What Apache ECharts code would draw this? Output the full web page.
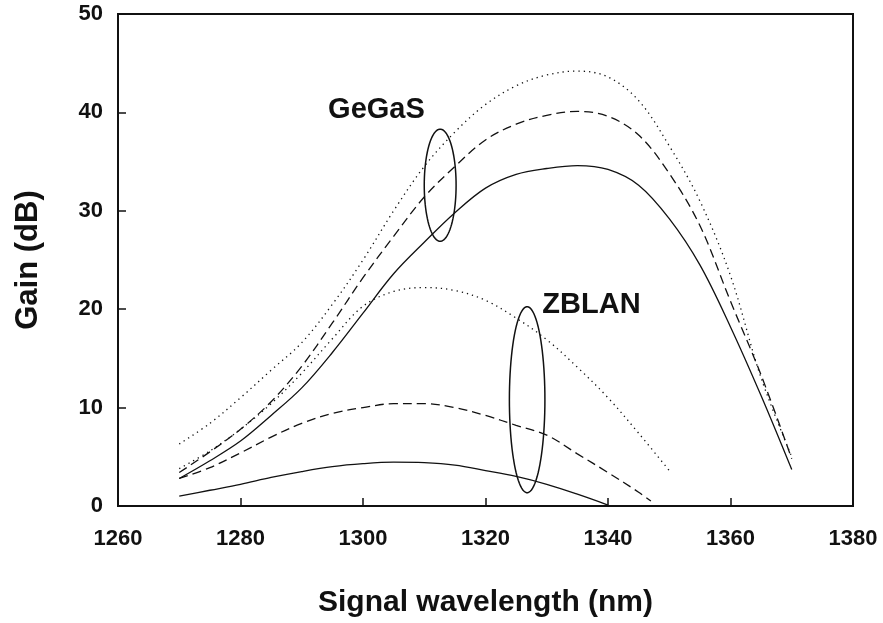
<!DOCTYPE html>
<html>
<head>
<meta charset="utf-8">
<script src="https://cdn.jsdelivr.net/npm/echarts@6/dist/echarts.min.js"></script>
<style>html,body{margin:0;padding:0;background:#fff}#chart{width:883px;height:623px}</style>
</head>
<body>
<div id="chart"></div>
<script>
// Wavelength grid (nm)
var wl = [1270,1275,1280,1285,1290,1295,1300,1305,1310,1315,1320,1325,1330,1335,1340,1345,1350,1355,1360,1365,1370];
// GeGaS gains (dB)
var gegasSolid  = [2.8,4.6,6.6,9.2,12.0,15.6,19.6,23.6,26.8,29.8,32.3,33.7,34.3,34.6,34.2,32.6,29.2,24.5,18.2,11.2,3.7];
var gegasDashed = [3.4,5.5,7.8,10.6,14.2,18.6,23.2,27.4,31.4,34.5,37.2,38.8,39.7,40.1,39.6,37.7,33.8,28.5,20.8,13.3,4.8];
var gegasDotted = [6.3,8.4,11.0,13.8,16.6,20.5,25.0,30.0,34.5,38.0,40.8,42.7,43.8,44.2,43.6,41.2,36.6,31.0,23.4,13.0,5.0];
// ZBLAN gains (dB)
var zblanSolidX  = [1270,1275,1280,1285,1290,1295,1300,1305,1310,1315,1320,1325,1330,1335,1340];
var zblanSolid   = [1.0,1.6,2.2,2.9,3.5,4.0,4.3,4.45,4.4,4.15,3.6,3.0,2.2,1.2,0.1];
var zblanDashedX = [1270,1275,1280,1285,1290,1295,1300,1305,1310,1315,1320,1325,1330,1335,1340,1345,1347];
var zblanDashed  = [2.8,3.9,5.4,7.0,8.4,9.4,10.0,10.4,10.4,10.0,9.2,8.2,7.2,5.3,3.4,1.4,0.5];
var zblanDottedX = [1270,1275,1280,1285,1290,1295,1300,1305,1310,1315,1320,1325,1330,1335,1340,1345,1350];
var zblanDotted  = [3.8,5.6,7.8,10.4,13.5,17.0,20.3,21.8,22.2,21.9,20.9,19.1,16.9,14.1,11.0,7.4,3.6];
// Group annotations: [centre wavelength, centre gain, half-width nm, half-height dB]
var gegasEllipse = [1312.6, 32.6, 2.6, 5.7];
var zblanEllipse = [1326.8, 10.8, 2.9, 9.45];
// Group labels: [wavelength, gain, text]
var groupLabels = [[1302.2, 40.2, 'GeGaS'], [1337.3, 20.4, 'ZBLAN']];

function pairs(xs, ys){ return xs.map(function(x,i){ return [x, ys[i]]; }); }

var ink = '#111';
function lineSeries(xs, ys, type){
  return {
    type: 'line', data: pairs(xs, ys), smooth: 0.35, showSymbol: false, symbol: 'none',
    lineStyle: { color: ink, width: 1.3, type: type }, z: 3, silent: true
  };
}
var DOT = [1.3, 4];
var DASH = [9, 5];

function ellipseSeries(e){
  return {
    type: 'custom', data: [e], z: 4, silent: true,
    renderItem: function(params, api){
      var c = api.coord([api.value(0), api.value(1)]);
      var s = api.size([api.value(2), api.value(3)]);
      var pts = [];
      for (var i = 0; i <= 90; i++) {
        var a = i / 90 * Math.PI * 2;
        pts.push([c[0] + s[0] * Math.cos(a), c[1] + s[1] * Math.sin(a)]);
      }
      return { type: 'polyline', shape: { points: pts }, style: { fill: null, stroke: ink, lineWidth: 1.5 } };
    }
  };
}

var chart = echarts.init(document.getElementById('chart'));
chart.setOption({
  animation: false,
  backgroundColor: '#fff',
  grid: { left: 118, top: 14, right: 30, bottom: 115, show: true, borderColor: ink, borderWidth: 2, backgroundColor: 'transparent' },
  xAxis: {
    type: 'value', min: 1260, max: 1380, interval: 20,
    name: 'Signal wavelength (nm)', nameLocation: 'middle', nameGap: 82,
    nameTextStyle: { fontFamily: 'Liberation Sans', fontWeight: 'bold', fontSize: 30, color: ink },
    axisLine: { show: true, lineStyle: { color: ink, width: 2 } },
    axisTick: { show: true, inside: true, length: 8, lineStyle: { color: ink, width: 1.5 } },
    axisLabel: { margin: 22, fontFamily: 'Liberation Sans', fontWeight: 'bold', fontSize: 22, color: ink,
                 formatter: function(v){ return String(v); } },
    splitLine: { show: false }
  },
  yAxis: {
    type: 'value', min: 0, max: 50, interval: 10,
    name: 'Gain (dB)', nameLocation: 'middle', nameGap: 74, nameRotate: 90,
    nameTextStyle: { fontFamily: 'Liberation Sans', fontWeight: 'bold', fontSize: 31, color: ink },
    axisLine: { show: true, lineStyle: { color: ink, width: 2 } },
    axisTick: { show: true, inside: true, length: 8, lineStyle: { color: ink, width: 1.5 } },
    axisLabel: { margin: 15, fontFamily: 'Liberation Sans', fontWeight: 'bold', fontSize: 22, color: ink },
    splitLine: { show: false }
  },
  series: [
    lineSeries(wl, gegasSolid, 'solid'),
    lineSeries(wl, gegasDashed, DASH),
    lineSeries(wl, gegasDotted, DOT),
    lineSeries(zblanSolidX, zblanSolid, 'solid'),
    lineSeries(zblanDashedX, zblanDashed, DASH),
    lineSeries(zblanDottedX, zblanDotted, DOT),
    ellipseSeries(gegasEllipse),
    ellipseSeries(zblanEllipse),
    {
      type: 'custom', data: groupLabels, z: 5, silent: true,
      renderItem: function(params, api){
        var p = api.coord([api.value(0), api.value(1)]);
        return { type: 'text', x: p[0], y: p[1], style: {
          text: groupLabels[params.dataIndex][2], textAlign: 'center', textVerticalAlign: 'middle',
          font: 'bold 29px "Liberation Sans"', fill: ink } };
      }
    }
  ]
});
</script>
</body>
</html>
